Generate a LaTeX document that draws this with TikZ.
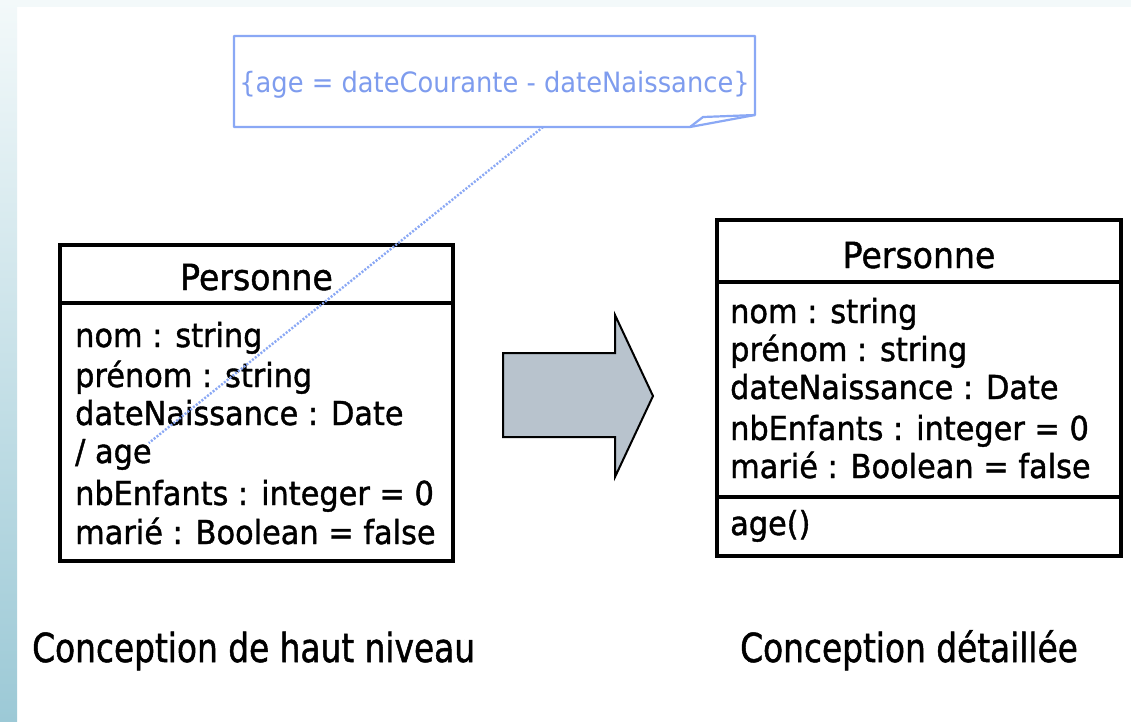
\documentclass[tikz,border=0pt]{standalone}
\usepackage{fontspec}
\newfontfamily\umlfont{DejaVu Sans}[FakeStretch=0.92,FakeBold=1.2]
\newfontfamily\notefont{DejaVu Sans}[FakeStretch=0.92]
\newfontfamily\capfont{DejaVu Sans}[FakeStretch=0.82,FakeBold=1.2]

\definecolor{noteblue}{HTML}{8AA8F5}
\definecolor{notetext}{HTML}{7E9CEE}
\definecolor{arrowfill}{HTML}{B8C3CD}
\definecolor{stripbot}{HTML}{9CC9D6}
\definecolor{stripmid}{HTML}{E4EFF3}
\definecolor{striptop}{HTML}{F3F9FA}

\begin{document}
\begin{tikzpicture}[x=1pt,y=-1pt,
  classbox/.style={draw=black, line width=3.2pt},
  attr/.style={anchor=base west, inner sep=0pt, text=black,
    font=\umlfont\fontsize{33}{39}\selectfont},
  classtitle/.style={anchor=base, inner sep=0pt, text=black,
    font=\umlfont\fontsize{36}{40}\selectfont},
  caption/.style={anchor=base west, inner sep=0pt, text=black,
    font=\capfont\fontsize{40}{44}\selectfont},
  notebox/.style={draw=noteblue, line width=2.2pt, line join=round},
  notelabel/.style={anchor=base, inner sep=0pt, text=notetext,
    font=\notefont\fontsize{28}{32}\selectfont},
  notelink/.style={draw=noteblue, line width=2.4pt, dash pattern=on 2pt off 1.6pt},
  blockarrow/.style={fill=arrowfill, draw=black, line width=2pt, line join=miter}
]
% page and background frame
\useasboundingbox (0,0) rectangle (1131,721);
\fill[white] (0,0) rectangle (1131,721);
\fill[striptop] (0,0) rectangle (1131,7);
\shade[top color=striptop, middle color=stripmid, bottom color=stripbot]
  (0,0) rectangle (17,721);

% constraint note with folded corner
\draw[notebox] (234,36) -- (755,36) -- (755,115) -- (690,127) -- (234,127) -- cycle;
\draw[notebox] (690,127) -- (703,117) -- (755,115);
\node[notelabel] (note) at (494.5,92) {\{age = dateCourante - dateNaissance\}};

% class Personne, high-level design
\draw[classbox] (60,245) rectangle (453,561);
\draw[classbox] (60,303) -- (453,303);
\node[classtitle] (lefttitle) at (256.5,290) {Personne};
\node[attr] (lnom)    at (75,347) {nom : string};
\node[attr] (lprenom) at (75,387) {prénom : string};
\node[attr] (ldate)   at (75,425) {dateNaissance : Date};
\node[attr] (lage)    at (75,463) {/ age};
\node[attr] (lenf)    at (75,505) {nbEnfants : integer = 0};
\node[attr] (lmarie)  at (75,544) {marié : Boolean = false};

% link from the note to the derived attribute
\coordinate (notefoot) at (543,127);
\coordinate (agetip) at (lage.base east);
\draw[notelink] (notefoot) -- ([shift={(-3,-20)}]agetip);

% transformation arrow
\draw[blockarrow] (503,353) -- (615,353) -- (615,315) -- (653,396)
  -- (615,477) -- (615,437) -- (503,437) -- cycle;

% class Personne, detailed design
\draw[classbox] (717,220) rectangle (1121,556);
\draw[classbox] (717,282) -- (1121,282);
\draw[classbox] (717,497) -- (1121,497);
\node[classtitle] (righttitle) at (919,268) {Personne};
\node[attr] (rnom)    at (730,323) {nom : string};
\node[attr] (rprenom) at (730,361) {prénom : string};
\node[attr] (rdate)   at (730,399) {dateNaissance : Date};
\node[attr] (renf)    at (730,440) {nbEnfants : integer = 0};
\node[attr] (rmarie)  at (730,478) {marié : Boolean = false};
\node[attr] (rage)    at (730,535) {age()};

% captions
\node[caption] (capleft)  at (32,662) {Conception de haut niveau};
\node[caption] (capright) at (740,662) {Conception détaillée};
\end{tikzpicture}
\end{document}
